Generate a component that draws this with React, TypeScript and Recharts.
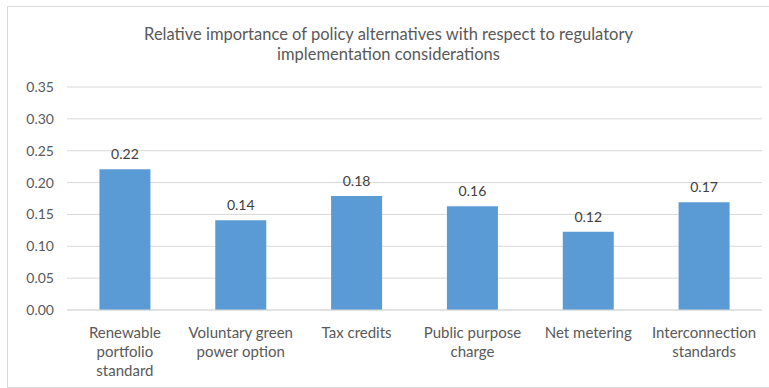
import React from 'react';
import { BarChart, Bar, XAxis, YAxis, CartesianGrid, LabelList } from 'recharts';

const categories = [
  'Renewable portfolio standard',
  'Voluntary green power option',
  'Tax credits',
  'Public purpose charge',
  'Net metering',
  'Interconnection standards',
];
const values = [0.221, 0.141, 0.179, 0.163, 0.123, 0.169];
const yTicks = [0, 0.05, 0.1, 0.15, 0.2, 0.25, 0.3, 0.35];

const data = categories.map((name, i) => ({ name, value: values[i] }));

const FONT = 'Lato, "Open Sans", sans-serif';
const GREY = '#595959';

// simple word wrap, Excel-ish
const wrap = (s: string, max = 15) => {
  const lines: string[] = [];
  let cur = '';
  s.split(' ').forEach((w) => {
    if (cur && (cur + ' ' + w).length > max) {
      lines.push(cur);
      cur = w;
    } else {
      cur = cur ? cur + ' ' + w : w;
    }
  });
  if (cur) lines.push(cur);
  return lines;
};

const XTick = (props: any) => {
  const { x, y, payload } = props;
  const lines = wrap(payload.value);
  return (
    <text x={x} y={y + 20} textAnchor="middle" fill={GREY} fontSize={15} fontFamily={FONT}>
      {lines.map((l, i) => (
        <tspan key={i} x={x} dy={i === 0 ? 0 : 19}>
          {l}
        </tspan>
      ))}
    </text>
  );
};

const YTick = (props: any) => {
  const { x, y, payload } = props;
  return (
    <text x={x - 3} y={y + 5} textAnchor="end" fill={GREY} fontSize={14} fontFamily={FONT}>
      {Number(payload.value).toFixed(2)}
    </text>
  );
};

export default function App() {
  return (
    <div
      style={{
        position: 'absolute',
        left: 7,
        top: 6,
        width: 761,
        height: 380,
        border: '1px solid #d9d9d9',
        background: '#fff',
      }}
    >
      <div
        style={{
          position: 'absolute',
          top: 17,
          left: 0,
          width: '100%',
          textAlign: 'center',
          fontFamily: FONT,
          fontSize: 16.5,
          lineHeight: '20px',
          color: GREY,
        }}
      >
        Relative importance of policy alternatives with respect to regulatory
        <br />
        implementation considerations
      </div>
      <BarChart
        width={761}
        height={380}
        data={data}
        margin={{ top: 80, right: 7, left: 9, bottom: 0 }}
        barCategoryGap="28%"
      >
        <CartesianGrid vertical={false} stroke="#d9d9d9" />
        <XAxis
          dataKey="name"
          axisLine={{ stroke: '#d9d9d9' }}
          tickLine={false}
          interval={0}
          height={77}
          tick={<XTick />}
        />
        <YAxis
          domain={[0, 0.35]}
          ticks={yTicks}
          axisLine={false}
          tickLine={false}
          width={50}
          tickMargin={4}
          tick={<YTick />}
        />
        <Bar dataKey="value" fill="#5b9bd5" isAnimationActive={false}>
          <LabelList
            dataKey="value"
            position="top"
            offset={10}
            formatter={(v: any) => Number(v).toFixed(2)}
            style={{ fill: '#404040', fontSize: 14, fontFamily: FONT }}
          />
        </Bar>
      </BarChart>
    </div>
  );
}
